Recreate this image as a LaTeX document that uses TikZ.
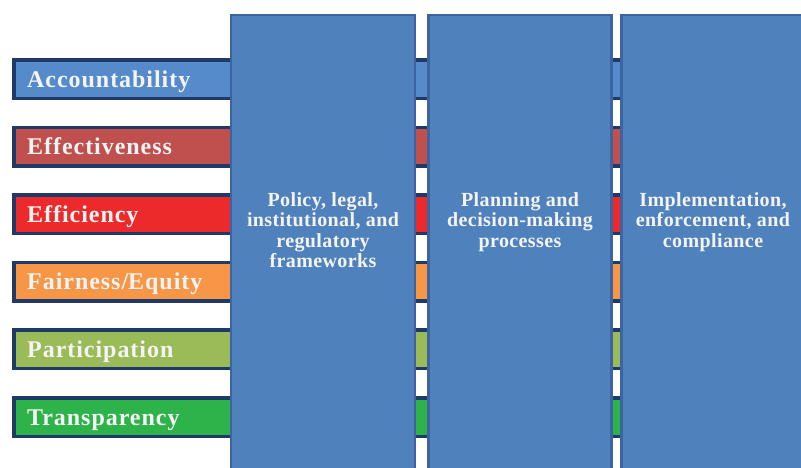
\documentclass[tikz,border=0pt]{standalone}
\usepackage{fontspec}
\setmainfont{Liberation Serif}
\newfontfamily\barfont[LetterSpace=4]{Liberation Serif}
\newfontfamily\colfont[LetterSpace=2]{Liberation Serif}
\definecolor{colblue}{HTML}{4F81BD}
\definecolor{colborder}{HTML}{3B64A0}
\definecolor{bardark}{HTML}{1F3A68}
\definecolor{cAcc}{HTML}{558ACB}
\definecolor{cEff}{HTML}{C0504D}
\definecolor{cEffi}{HTML}{EC2A2B}
\definecolor{cFair}{HTML}{F79646}
\definecolor{cPart}{HTML}{9BBB59}
\definecolor{cTrans}{HTML}{2EB34B}
\definecolor{txt}{HTML}{F4F4F4}
\tikzset{
  barbox/.style={draw=bardark, line width=3.5pt},
  barlabel/.style={anchor=base west, inner sep=0pt, text=txt, font=\barfont\bfseries\fontsize{24}{28}\selectfont},
  colbox/.style={fill=colblue, draw=colborder, line width=2.5pt},
  collabel/.style={anchor=north, inner sep=0pt, align=center, text=txt, font=\colfont\bfseries\fontsize{20}{20.5}\selectfont}
}
\begin{document}
\begin{tikzpicture}[x=1pt,y=-1pt]
\useasboundingbox (0,0) rectangle (801,467);
\clip (0,0) rectangle (801,467);
\fill[white] (0,0) rectangle (801,467);
% bars
\foreach \i/\c/\t [count=\n from 0] in {0/cAcc/Accountability,1/cEff/Effectiveness,2/cEffi/Efficiency,3/cFair/Fairness\slash Equity,4/cPart/Participation,5/cTrans/Transparency}{
  \pgfmathsetmacro{\top}{58+67.6*\i}
  \draw[barbox, fill=\c] (13.75,\top+1.75) rectangle (820,\top+40.25);
  \node[barlabel] (bar\n) at (27,\top+29) {\t};
}
% columns
\draw[colbox] (231,15) rectangle (415,480);
\draw[colbox] (428.5,15) rectangle (611.5,480);
\draw[colbox] (621.5,15) rectangle (815,480);
\node[collabel] (c1) at (323,192) {Policy, legal,\\institutional, and\\regulatory\\frameworks};
\node[collabel] (c2) at (520,192) {Planning and\\decision-making\\processes};
\node[collabel] (c3) at (713,192) {Implementation,\\enforcement, and\\compliance};
\end{tikzpicture}
\end{document}
